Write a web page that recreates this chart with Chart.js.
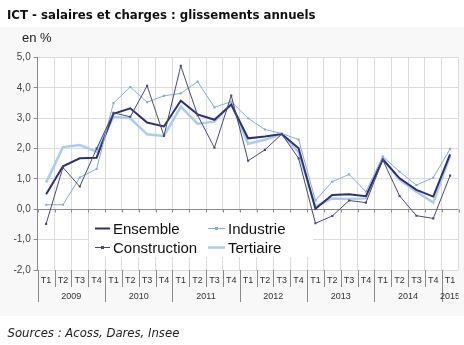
<!DOCTYPE html>
<html>
<head>
<meta charset="utf-8">
<script src="https://cdn.jsdelivr.net/npm/chart.js@4/dist/chart.umd.min.js"></script>
<style>
html,body{margin:0;padding:0;background:#ffffff;}
canvas{display:block;}
</style>
</head>
<body>
<canvas id="c" width="464" height="345"></canvas>
<script>
// ---- data ----
const quarters = ["T1","T2","T3","T4","T1","T2","T3","T4","T1","T2","T3","T4","T1","T2","T3","T4","T1","T2","T3","T4","T1","T2","T3","T4","T1"];
const years = ["2009","2010","2011","2012","2013","2014","2015"];
const yTicks = [-2, -1, 0, 1, 2, 3, 4, 5];

const ensemble     = [0.50, 1.42, 1.68, 1.70, 3.15, 3.33, 2.86, 2.73, 3.58, 3.13, 2.95, 3.45, 2.34, 2.40, 2.48, 2.01, 0.02, 0.47, 0.50, 0.43, 1.65, 1.02, 0.64, 0.42, 1.81];
const construction = [-0.48, 1.38, 0.75, 2.00, 3.18, 3.05, 4.07, 2.42, 4.73, 3.10, 2.03, 3.75, 1.60, 1.96, 2.48, 1.68, -0.46, -0.22, 0.29, 0.22, 1.63, 0.44, -0.21, -0.30, 1.11];
const industrie    = [0.15, 0.15, 1.05, 1.33, 3.50, 4.03, 3.53, 3.74, 3.82, 4.21, 3.36, 3.55, 3.00, 2.63, 2.50, 2.30, 0.29, 0.91, 1.15, 0.58, 1.74, 1.24, 0.80, 1.04, 1.99];
const tertiaire    = [0.88, 2.05, 2.12, 1.90, 3.05, 3.00, 2.47, 2.42, 3.38, 2.82, 2.89, 3.48, 2.16, 2.29, 2.48, 1.88, 0.10, 0.36, 0.34, 0.36, 1.68, 0.97, 0.58, 0.22, 1.77];

const titleText = "ICT - salaires et charges : glissements annuels";
const unitText = "en %";
const sourceText = "Sources : Acoss, Dares, Insee";

// ---- styles ----
const C_ENS = '#2d2f7e', C_CON = '#4a4a78', C_IND = '#86acd9', C_TER = '#a9cdef';
const GRID = '#dcdcdc', AXIS = '#8a8a8a';

function fitFont(ctx, text, style, family, targetW) {
  ctx.font = style + ' 12px ' + family;
  const w = ctx.measureText(text).width;
  return 12 * targetW / w;
}

const decor = {
  id: 'decor',
  beforeDraw(chart) {
    const ctx = chart.ctx, a = chart.chartArea;
    ctx.save();
    ctx.fillStyle = '#ffffff';
    ctx.fillRect(0, 0, chart.width, chart.height);
    ctx.fillStyle = '#f8f8f8';
    ctx.fillRect(0, 27, chart.width, 289);
    ctx.fillStyle = '#ffffff';
    ctx.fillRect(a.left, a.top, a.right - a.left, a.bottom - a.top);
    // title
    const fam = '"DejaVu Sans", Verdana, sans-serif';
    let fs = fitFont(ctx, titleText, 'bold', fam, 309);
    ctx.font = 'bold ' + fs + 'px ' + fam;
    ctx.fillStyle = '#111111';
    ctx.textAlign = 'left'; ctx.textBaseline = 'alphabetic';
    ctx.fillText(titleText, 7, 18.5);
    // unit
    ctx.font = '13px "Liberation Sans", Arial, sans-serif';
    ctx.fillStyle = '#222222';
    ctx.fillText(unitText, 22, 41.5);
    // source
    fs = fitFont(ctx, sourceText, 'italic', fam, 172);
    ctx.font = 'italic ' + fs + 'px ' + fam;
    ctx.fillStyle = '#222222';
    ctx.fillText(sourceText, 7.5, 337);
    ctx.restore();
  },
  beforeDatasetsDraw(chart) {
    const ctx = chart.ctx;
    // legend box
    ctx.save();
    ctx.fillStyle = '#ffffff';
    ctx.fillRect(89, 212, 224, 45);
    const items = [
      {ds: 0, x: 95, y: 228.5},
      {ds: 2, x: 208, y: 228.5},
      {ds: 1, x: 95, y: 247.5},
      {ds: 3, x: 208, y: 247.5}
    ];
    ctx.font = '15px "Liberation Sans", Arial, sans-serif';
    ctx.textAlign = 'left'; ctx.textBaseline = 'alphabetic';
    items.forEach(it => {
      const d = chart.data.datasets[it.ds];
      const len = it.x < 150 ? 15 : 17;
      ctx.strokeStyle = d.borderColor;
      ctx.lineWidth = d.borderWidth;
      ctx.beginPath(); ctx.moveTo(it.x, it.y); ctx.lineTo(it.x + len, it.y); ctx.stroke();
      if (d.pointRadius > 0) {
        ctx.fillStyle = d.borderColor;
        ctx.fillRect(it.x + len / 2 - 1.5, it.y - 1.5, 3, 3);
      }
      ctx.fillStyle = '#111111';
      ctx.fillText(d.label, it.x + len + 3, it.y + 5.5);
    });
    ctx.restore();
  },
  afterDraw(chart) {
    const ctx = chart.ctx, a = chart.chartArea, xs = chart.scales.x, ys = chart.scales.y;
    const n = quarters.length;
    const half = (xs.getPixelForValue(1) - xs.getPixelForValue(0)) / 2;
    const y0 = Math.round(ys.getPixelForValue(0)) + 0.5;
    ctx.save();
    ctx.strokeStyle = AXIS; ctx.lineWidth = 1;
    ctx.beginPath();
    for (let i = 0; i <= n; i++) {
      const x = Math.round(xs.getPixelForValue(i) - half) + 0.5;
      ctx.moveTo(x, y0); ctx.lineTo(x, y0 + 3);
    }
    // separators under plot
    const b = Math.round(a.bottom);
    for (let i = 0; i < n; i++) {
      const x = Math.round(xs.getPixelForValue(i) - half) + 0.5;
      const isYear = i % 4 === 0;
      ctx.moveTo(x, b); ctx.lineTo(x, b + (isYear ? 32 : 17));
    }
    ctx.stroke();
    ctx.font = '9px "Liberation Sans", Arial, sans-serif';
    ctx.fillStyle = '#333333';
    ctx.textAlign = 'center'; ctx.textBaseline = 'middle';
    for (let i = 0; i < n; i++) {
      ctx.fillText(quarters[i], xs.getPixelForValue(i), b + 10.5);
    }
    ctx.beginPath(); ctx.rect(0, b, a.right, 40); ctx.clip();
    years.forEach((yr, j) => {
      const s = 4 * j, e = Math.min(4 * j + 3, n - 1);
      const cx = (xs.getPixelForValue(s) + xs.getPixelForValue(e)) / 2;
      ctx.fillText(yr, cx, b + 26.5);
    });
    ctx.restore();
  }
};

new Chart(document.getElementById('c'), {
  type: 'line',
  data: {
    labels: quarters,
    datasets: [
      {label: 'Ensemble', data: ensemble, borderColor: C_ENS, backgroundColor: C_ENS, borderWidth: 2, pointRadius: 0, order: 2},
      {label: 'Construction', data: construction, borderColor: C_CON, backgroundColor: C_CON, borderWidth: 1, pointStyle: 'rect', pointRadius: 1.5, pointBorderWidth: 0, order: 0},
      {label: 'Industrie', data: industrie, borderColor: C_IND, backgroundColor: C_IND, borderWidth: 1, pointStyle: 'rect', pointRadius: 1.5, pointBorderWidth: 0, order: 1},
      {label: 'Tertiaire', data: tertiaire, borderColor: C_TER, backgroundColor: C_TER, borderWidth: 2.5, pointRadius: 0, order: 3}
    ]
  },
  options: {
    responsive: false,
    devicePixelRatio: 1,
    animation: false,
    events: [],
    layout: {padding: {top: 57.6, left: 0, right: 5.5, bottom: 75}},
    plugins: {legend: {display: false}, tooltip: {enabled: false}, title: {display: false}},
    elements: {line: {tension: 0}},
    scales: {
      x: {
        type: 'category',
        offset: true,
        grid: {offset: true, color: GRID, drawTicks: false},
        ticks: {display: false},
        border: {display: false},
        afterFit: s => { s.height = 0; }
      },
      y: {
        min: -2, max: 5,
        afterBuildTicks: s => { s.ticks = yTicks.map(v => ({value: v})); },
        afterFit: s => { s.width = 37.7; },
        ticks: {
          callback: v => v.toFixed(1).replace('.', ','),
          font: {family: '"Liberation Sans", Arial, sans-serif', size: 10},
          color: '#444444',
          padding: 3
        },
        grid: {
          color: c => (c.tick && c.tick.value === 0) ? AXIS : GRID,
          tickColor: AXIS,
          tickLength: 4
        },
        border: {display: true, color: AXIS}
      }
    }
  },
  plugins: [decor]
});
</script>
</body>
</html>
